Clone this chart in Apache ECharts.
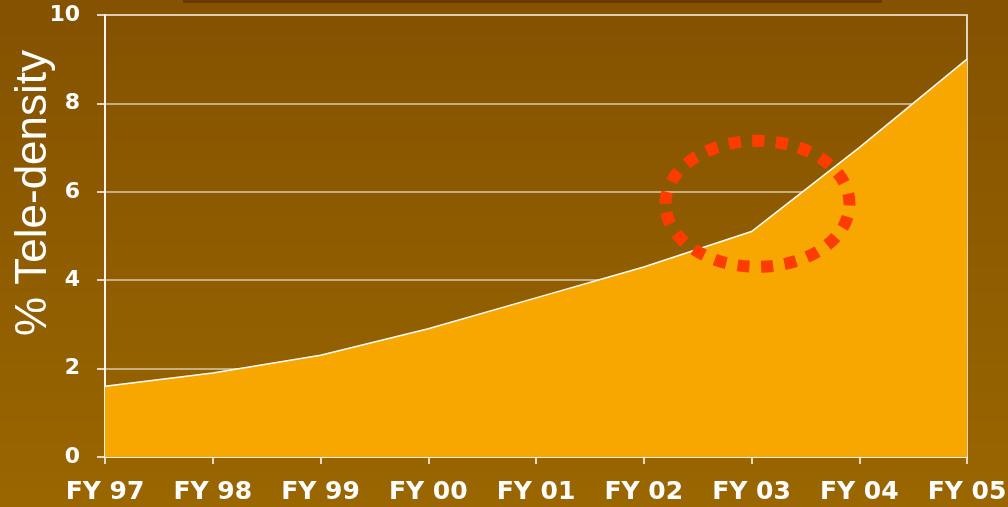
<!DOCTYPE html>
<html><head><meta charset="utf-8">
<script src="https://cdn.jsdelivr.net/npm/echarts@6/dist/echarts.min.js"></script>
<style>html,body{margin:0;padding:0;}#c{width:1008px;height:507px;}</style>
</head><body><div id="c"></div>
<script>
const categories = ['FY 97','FY 98','FY 99','FY 00','FY 01','FY 02','FY 03','FY 04','FY 05'];
const teleDensity = [1.6, 1.9, 2.3, 2.9, 3.6, 4.3, 5.1, 7.0, 9.0];
const yTicks = {min: 0, max: 10, interval: 2};
const axisName = '% Tele-density';

const chart = echarts.init(document.getElementById('c'));
const font = '"Liberation Sans", Arial, sans-serif';
const tickFont = '"DejaVu Sans", sans-serif';
chart.setOption({
  backgroundColor: {type:'linear', x:0, y:0, x2:0, y2:1, colorStops:[{offset:0,color:'#845200'},{offset:1,color:'#9a6600'}]},
  animation: false,
  grid: {left:105, right:41, top:15, bottom:50, outerBoundsMode:'none', containLabel:false, show:true, borderColor:'#ffffff', borderWidth:1.5, backgroundColor:'transparent'},
  xAxis: {
    type:'category', data:categories, boundaryGap:false,
    axisLine:{lineStyle:{color:'#ffffff', width:1.5}},
    axisTick:{show:true, length:7, lineStyle:{color:'#ffffff', width:1.5}},
    axisLabel:{color:'#ffffff', fontFamily:tickFont, fontWeight:'bold', fontSize:25, margin:23, hideOverlap:false},
    splitLine:{show:false}
  },
  yAxis: {
    type:'value', min:yTicks.min, max:yTicks.max, interval:yTicks.interval,
    axisLine:{show:true, lineStyle:{color:'#ffffff', width:1.5}},
    axisTick:{show:true, length:8, lineStyle:{color:'#ffffff', width:1.5}},
    axisLabel:{color:'#ffffff', fontFamily:tickFont, fontWeight:'bold', fontSize:22, margin:25},
    splitLine:{show:true, lineStyle:{color:'#dccbab', width:1.5}}
  },
  series: [{
    type:'line', data:teleDensity, symbol:'none',
    lineStyle:{color:'#ffffff', width:1.5},
    areaStyle:{color:'#f8a600', opacity:1}
  }]
});

const c = chart.convertToPixel({xAxisIndex:0, yAxisIndex:0}, [6, 5.75]);
chart.setOption({
  graphic: [
    {type:'rect', shape:{x:183, y:0, width:699, height:3}, style:{fill:'#6a3800'}},
    {type:'text', x:34, y:193, rotation:Math.PI/2, z:10,
      style:{text:axisName, fill:'#ffffff', font:'44px ' + font, align:'center', verticalAlign:'middle',
        textShadowColor:'rgba(40,20,0,0.9)', textShadowOffsetX:2, textShadowOffsetY:2, textShadowBlur:0}},
    {type:'ellipse', z:20, shape:{cx:c[0]+6, cy:c[1]+1, rx:92, ry:63},
      style:{fill:'none', stroke:'#ff3c00', lineWidth:12, lineDash:[12,11.5]}}
  ]
});
</script></body></html>
